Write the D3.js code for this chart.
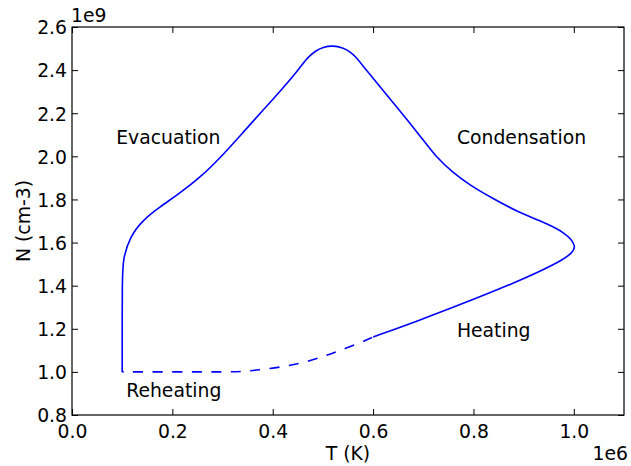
<!DOCTYPE html>
<html>
<head>
<meta charset="utf-8">
<script src="https://cdn.jsdelivr.net/npm/d3@7"></script>
<style>
  html, body { margin: 0; padding: 0; background: #fff; }
  text { font-family: "DejaVu Sans", sans-serif; }
</style>
</head>
<body>
<svg id="chart" width="631" height="466"></svg>
<script>
// Data (T in 1e6 K, N in 1e9 cm-3)
const reheatT = [0.10, 0.20, 0.30, 0.34, 0.37, 0.42, 0.46, 0.50, 0.534, 0.574, 0.60];
const reheatN = [1.00, 1.00, 1.00, 1.001, 1.009, 1.023, 1.042, 1.07, 1.10, 1.134, 1.162];

const loopT = [0.60, 0.689, 0.797, 0.90, 0.978, 0.995, 1.006, 0.986, 0.932, 0.892, 0.839, 0.793, 0.759, 0.726, 0.693, 0.653, 0.614, 0.574, 0.565, 0.554, 0.540, 0.520, 0.500, 0.485, 0.468, 0.454, 0.421, 0.381, 0.341, 0.301, 0.255, 0.2086, 0.175, 0.142, 0.1155, 0.102, 0.10, 0.10];
const loopN = [1.162, 1.236, 1.333, 1.43, 1.518, 1.55, 1.58, 1.644, 1.702, 1.738, 1.804, 1.866, 1.925, 1.995, 2.097, 2.213, 2.321, 2.437, 2.462, 2.486, 2.504, 2.514, 2.507, 2.489, 2.455, 2.41, 2.318, 2.215, 2.111, 2.007, 1.90, 1.819, 1.765, 1.706, 1.628, 1.526, 1.45, 1.00];

const xTicks = [0.0, 0.2, 0.4, 0.6, 0.8, 1.0];
const yTicks = [0.8, 1.0, 1.2, 1.4, 1.6, 1.8, 2.0, 2.2, 2.4, 2.6];

const labels = [
  {text: "Evacuation", t: 0.088, n: 2.059},
  {text: "Condensation", t: 0.767, n: 2.059},
  {text: "Heating", t: 0.767, n: 1.16},
  {text: "Reheating", t: 0.108, n: 0.885}
];

(function () {
const svg = d3.select("#chart");
const mL = 72, mR = 624, mT = 27, mB = 415;
const x = d3.scaleLinear().domain([0, 1.1]).range([mL, mR]);
const y = d3.scaleLinear().domain([0.8, 2.6]).range([mB, mT]);
const fs = "18.8px";
const tickLen = 6;

// curves
const line = d3.line().x(d => x(d[0])).y(d => y(d[1])).curve(d3.curveBasis);
svg.append("path")
  .datum(reheatT.map((t, i) => [t, reheatN[i]]))
  .attr("d", line).attr("fill", "none").attr("stroke", "#0000ff")
  .attr("stroke-width", 1.6).attr("stroke-dasharray", "10,9.5").attr("stroke-dashoffset", -11);
svg.append("path")
  .datum(loopT.map((t, i) => [t, loopN[i]]))
  .attr("d", line).attr("fill", "none").attr("stroke", "#0000ff")
  .attr("stroke-width", 1.6).attr("stroke-linejoin", "round");

// axes (ticks inside on all sides)
const fmt = d3.format(".1f");
const xb = svg.append("g").attr("transform", `translate(0,${mB})`)
  .call(d3.axisBottom(x).tickValues(xTicks).tickSize(-tickLen).tickFormat(fmt));
const xt = svg.append("g").attr("transform", `translate(0,${mT})`)
  .call(d3.axisTop(x).tickValues(xTicks).tickSize(-tickLen).tickFormat(""));
const yl = svg.append("g").attr("transform", `translate(${mL},0)`)
  .call(d3.axisLeft(y).tickValues(yTicks).tickSize(-tickLen).tickFormat(fmt));
const yr = svg.append("g").attr("transform", `translate(${mR},0)`)
  .call(d3.axisRight(y).tickValues(yTicks).tickSize(-tickLen).tickFormat(""));
[xb, xt, yl, yr].forEach(g => {
  g.select(".domain").remove();
  g.selectAll(".tick line").attr("stroke", "#000").attr("stroke-width", 1);
  g.selectAll(".tick text").attr("fill", "#000").style("font-size", fs).style("font-family", "DejaVu Sans");
});
xb.selectAll(".tick text").attr("dy", null).attr("y", 22.5);
yl.selectAll(".tick text").attr("x", -5).attr("dy", "0.36em");

svg.append("rect").attr("x", mL).attr("y", mT).attr("width", mR - mL).attr("height", mB - mT)
  .attr("fill", "none").attr("stroke", "#000").attr("stroke-width", 1.2);

// offset texts
svg.append("text").attr("x", 71).attr("y", 22).style("font-size", fs).text("1e9");
svg.append("text").attr("x", 628).attr("y", 460).attr("text-anchor", "end").style("font-size", fs).text("1e6");

// axis labels
svg.append("text").attr("x", (mL + mR) / 2).attr("y", 460).attr("text-anchor", "middle").style("font-size", fs).text("T (K)");
svg.append("text").attr("transform", `translate(29.5,${(mT + mB) / 2}) rotate(-90)`).attr("text-anchor", "middle").style("font-size", fs).text("N (cm-3)");

// annotations
svg.selectAll("text.ann").data(labels).enter().append("text").attr("class", "ann")
  .attr("x", d => x(d.t)).attr("y", d => y(d.n)).attr("text-anchor", "start")
  .style("font-size", fs).text(d => d.text);
})();
</script>
</body>
</html>
